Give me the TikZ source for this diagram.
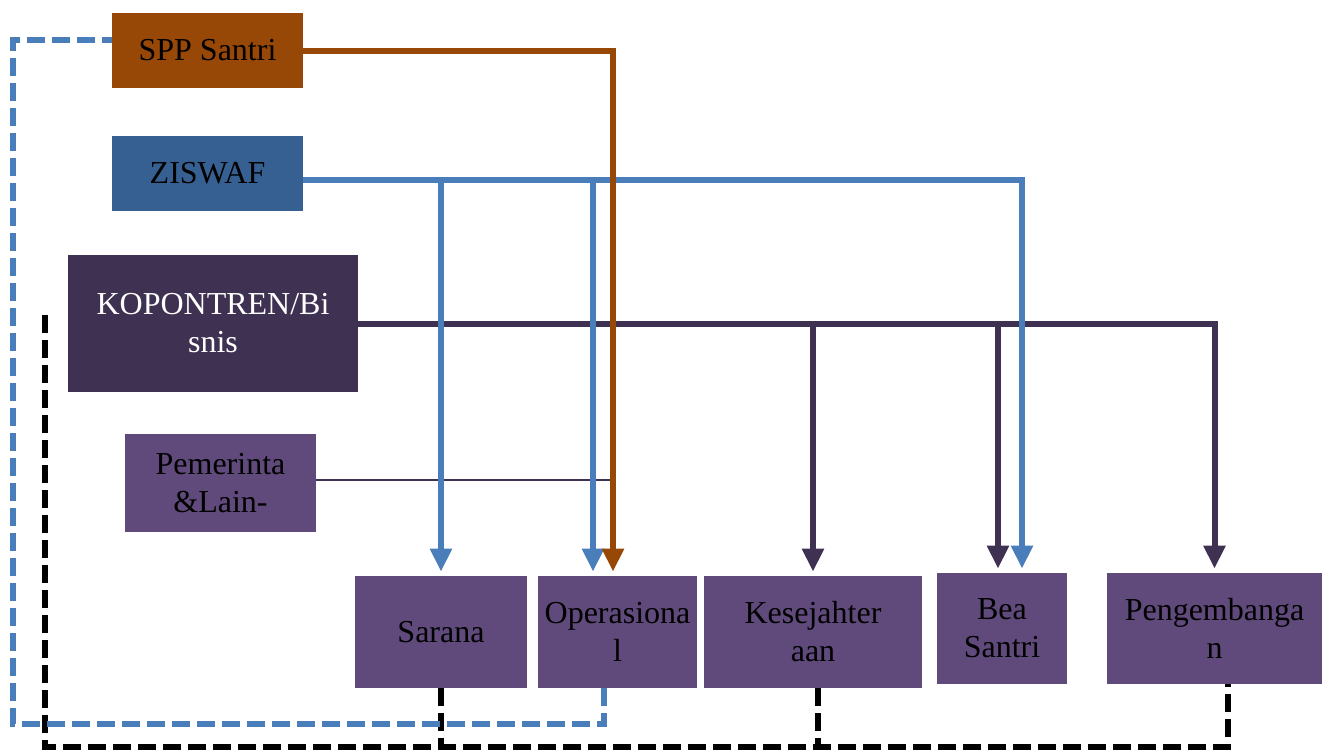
\documentclass[tikz,border=0pt]{standalone}
\usepackage{fontspec}
\setmainfont{Liberation Serif}
\usetikzlibrary{arrows.meta}

\definecolor{spp-brown}{HTML}{974706}
\definecolor{ziswaf-blue}{HTML}{366092}
\definecolor{kop-purple}{HTML}{3F3151}
\definecolor{box-purple}{HTML}{604A7B}
\definecolor{line-blue}{HTML}{4A7EBB}

\begin{document}
\begin{tikzpicture}[
  x=0.5pt, y=-0.5pt,
  flow/.style={line width=3pt, -{Triangle[length=11.5pt,width=10.5pt]}, shorten >=2pt},
  link-dashed/.style={line width=2.8pt, dash pattern=on 9pt off 3.5pt},
  ]
  \useasboundingbox (0,0) rectangle (1322,751);
  \begin{scope}[
    every node/.style={
      inner sep=0pt,
      align=center,
      font=\fontsize{16}{19}\selectfont,
    },
    ]
    \node[fill=spp-brown, minimum width=95.5pt, minimum height=37.5pt]
    (spp-santri) at (207.5,50.5) {SPP Santri};
    \node[fill=ziswaf-blue, minimum width=95.5pt, minimum height=37.5pt]
    (ziswaf) at (207.5,173.5) {ZISWAF};
    \node[fill=kop-purple, text=white, minimum width=145pt, minimum height=68.5pt]
    (kopontren) at (213,323.5) {KOPONTREN/Bi\\snis};
    \node[fill=box-purple, minimum width=95.5pt, minimum height=49pt]
    (pemerintah) at (220.5,483) {Pemerinta\\\&Lain-};
  \end{scope}
  \begin{scope}[
    every node/.style={
      fill=box-purple,
      inner sep=0pt,
      align=center,
      font=\fontsize{16}{19}\selectfont,
    },
    ]
    \node[minimum width=86pt, minimum height=56pt] (sarana) at (441,632) {Sarana};
    \node[minimum width=79.5pt, minimum height=56pt] (operasional) at (617.5,632) {Operasiona\\l};
    \node[minimum width=109pt, minimum height=56pt] (kesejahteraan) at (813,632) {Kesejahter\\aan};
    \node[minimum width=65pt, minimum height=55.5pt] (bea-santri) at (1002,628.5) {Bea\\Santri};
    \node[minimum width=107.5pt, minimum height=55.5pt] (pengembangan) at (1214.5,628.5) {Pengembanga\\n};
  \end{scope}
  \coordinate (ziswaf-out) at ([yshift=-3.25pt]ziswaf.east);
  \coordinate (spp-drop) at ([xshift=-2.25pt]operasional.north);
  \coordinate (blue-corner-top) at (13,40);
  \coordinate (blue-corner-bottom) at (13,724);
  \coordinate (black-top) at (45,315);
  \coordinate (black-corner) at (45,747);
  % dashed return lines
  \draw[link-dashed, black] (black-top) -- (black-corner) -| ([xshift=6.75pt]pengembangan.south);
  \draw[link-dashed, black] (sarana.south) -- (sarana.south |- black-corner);
  \draw[link-dashed, black] ([xshift=2.5pt]kesejahteraan.south) -- ([xshift=2.5pt]kesejahteraan.south |- black-corner);
  \draw[link-dashed, line-blue] ([xshift=-6.75pt]operasional.south) |- (blue-corner-bottom)
    -- (blue-corner-top) -- (blue-corner-top -| spp-santri.west);
  % pemerintah
  \draw[kop-purple, line width=1.2pt] ([yshift=1.5pt]pemerintah.east) -- ([yshift=1.5pt]pemerintah.east -| spp-drop);
  % kopontren
  \draw[flow, kop-purple] (kopontren.east) -| (pengembangan.north);
  \draw[flow, kop-purple] (kesejahteraan.north |- kopontren.east) -- (kesejahteraan.north);
  \draw[flow, kop-purple] ([xshift=-2pt]bea-santri.north |- kopontren.east) -- ([xshift=-2pt]bea-santri.north);
  % ziswaf
  \draw[flow, line-blue] (ziswaf-out) -| ([xshift=10pt]bea-santri.north);
  \draw[flow, line-blue] (sarana.north |- ziswaf-out) -- (sarana.north);
  \draw[flow, line-blue] ([xshift=-12.25pt]operasional.north |- ziswaf-out) -- ([xshift=-12.25pt]operasional.north);
  % spp
  \draw[flow, spp-brown] (spp-santri.east) -| (spp-drop);
\end{tikzpicture}
\end{document}
